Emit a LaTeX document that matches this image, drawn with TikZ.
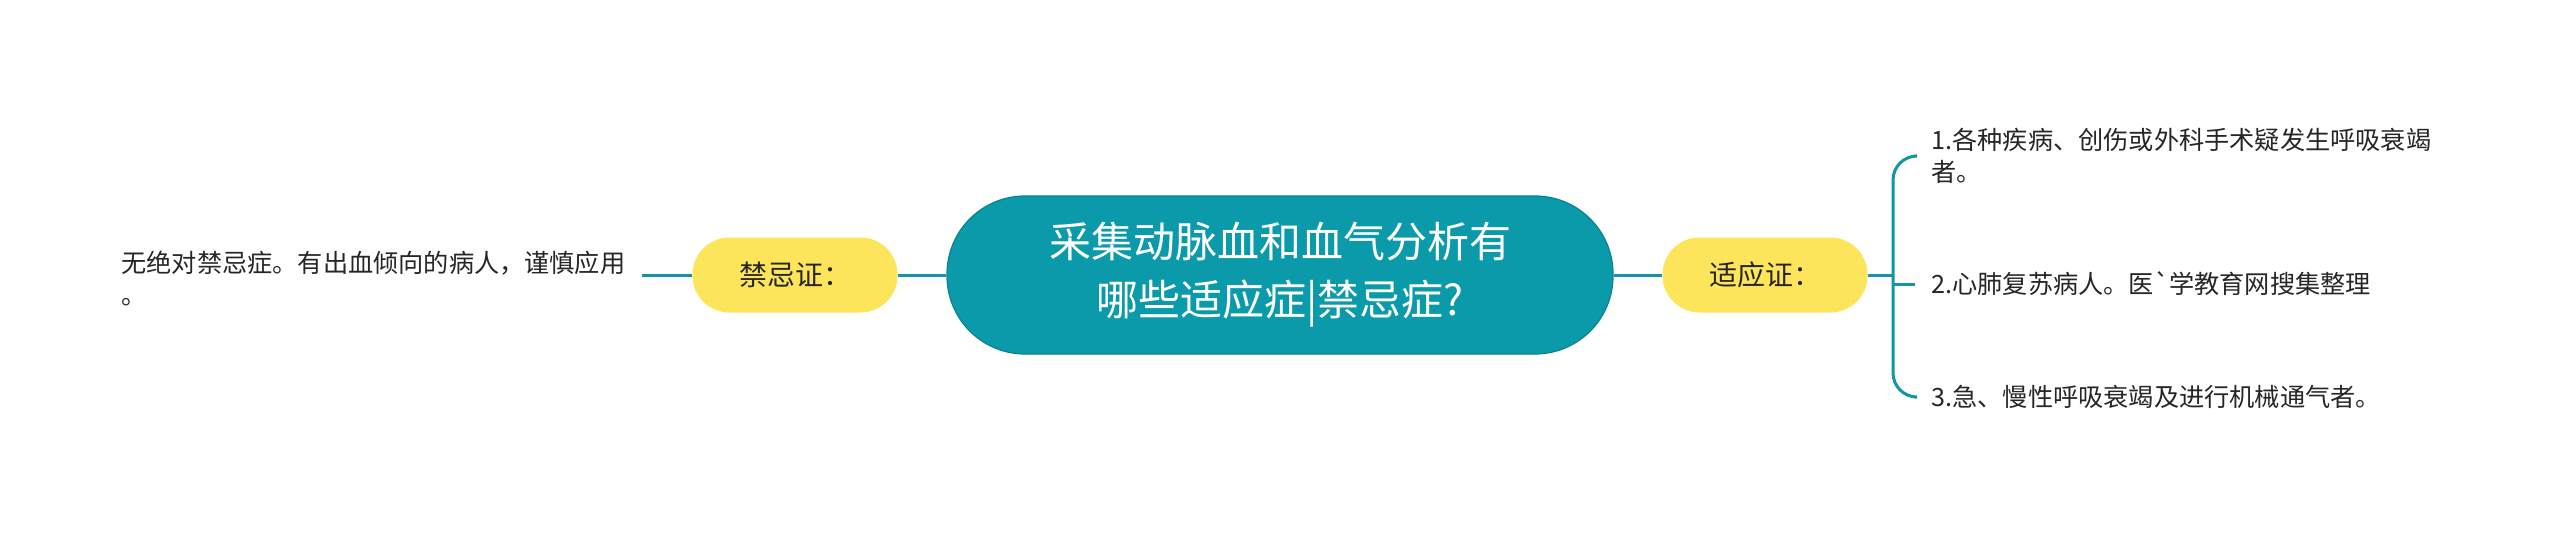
\documentclass[tikz,border=0pt]{standalone}
\usepackage{fontspec}
\setmainfont{Noto Sans CJK SC}
\definecolor{rootc}{HTML}{0B9AA9}
\definecolor{rootd}{HTML}{08838F}
\definecolor{yel}{HTML}{FDE55B}
\definecolor{linec}{HTML}{1396A3}
\definecolor{txt}{HTML}{262626}
\begin{document}
\begin{tikzpicture}[x=0.5pt,y=-0.5pt,
  conn/.style={draw=linec, line width=1.5pt},
  root/.style={fill=rootc, draw=rootd, line width=0.6pt, rounded corners=39pt, minimum width=333pt, minimum height=79pt, text=white, font=\fontsize{21}{29}\selectfont, align=center, inner sep=0pt},
  sub/.style={fill=yel, draw=none, rounded corners=18.5pt, minimum width=102.5pt, minimum height=37.5pt, font=\fontsize{14}{17}\selectfont, text=txt, inner sep=0pt},
  leaf/.style={font=\fontsize{12.6}{16}\selectfont, text=txt, align=left, inner xsep=8pt, inner ysep=2pt}]
\useasboundingbox[fill=white] (0,0) rectangle (2560,535);
\node[root] (root) at (1280,275) {采集动脉血和血气分析有\\哪些适应症|禁忌症?};
\node[sub] (jin) at (795,275) {禁忌证：};
\node[leaf, anchor=west] (jt) at (105,279) {无绝对禁忌症。有出血倾向的病人，谨慎应用\\。};
\node[sub] (shi) at (1765,275) {适应证：};
\coordinate (br) at (1893,275);
\node[leaf, anchor=west] (i1) at (1915,156) {1.各种疾病、创伤或外科手术疑发生呼吸衰竭\\者。};
\node[leaf, anchor=west] (i2) at (1915,284) {2.心肺复苏病人。医\textasciigrave 学教育网搜集整理};
\node[leaf, anchor=west] (i3) at (1915,397) {3.急、慢性呼吸衰竭及进行机械通气者。};
\draw[conn] (root.west) -- (jin.east);
\draw[conn] (jin.west) -- (jt.east |- jin.west);
\draw[conn] (root.east) -- (shi.west);
\draw[conn] (shi.east) -- (br);
\draw[conn, rounded corners=12pt] (i1.west) -| (br) |- (i3.west);
\draw[conn] (i2.west -| br) -- (i2.west);
\end{tikzpicture}
\end{document}
